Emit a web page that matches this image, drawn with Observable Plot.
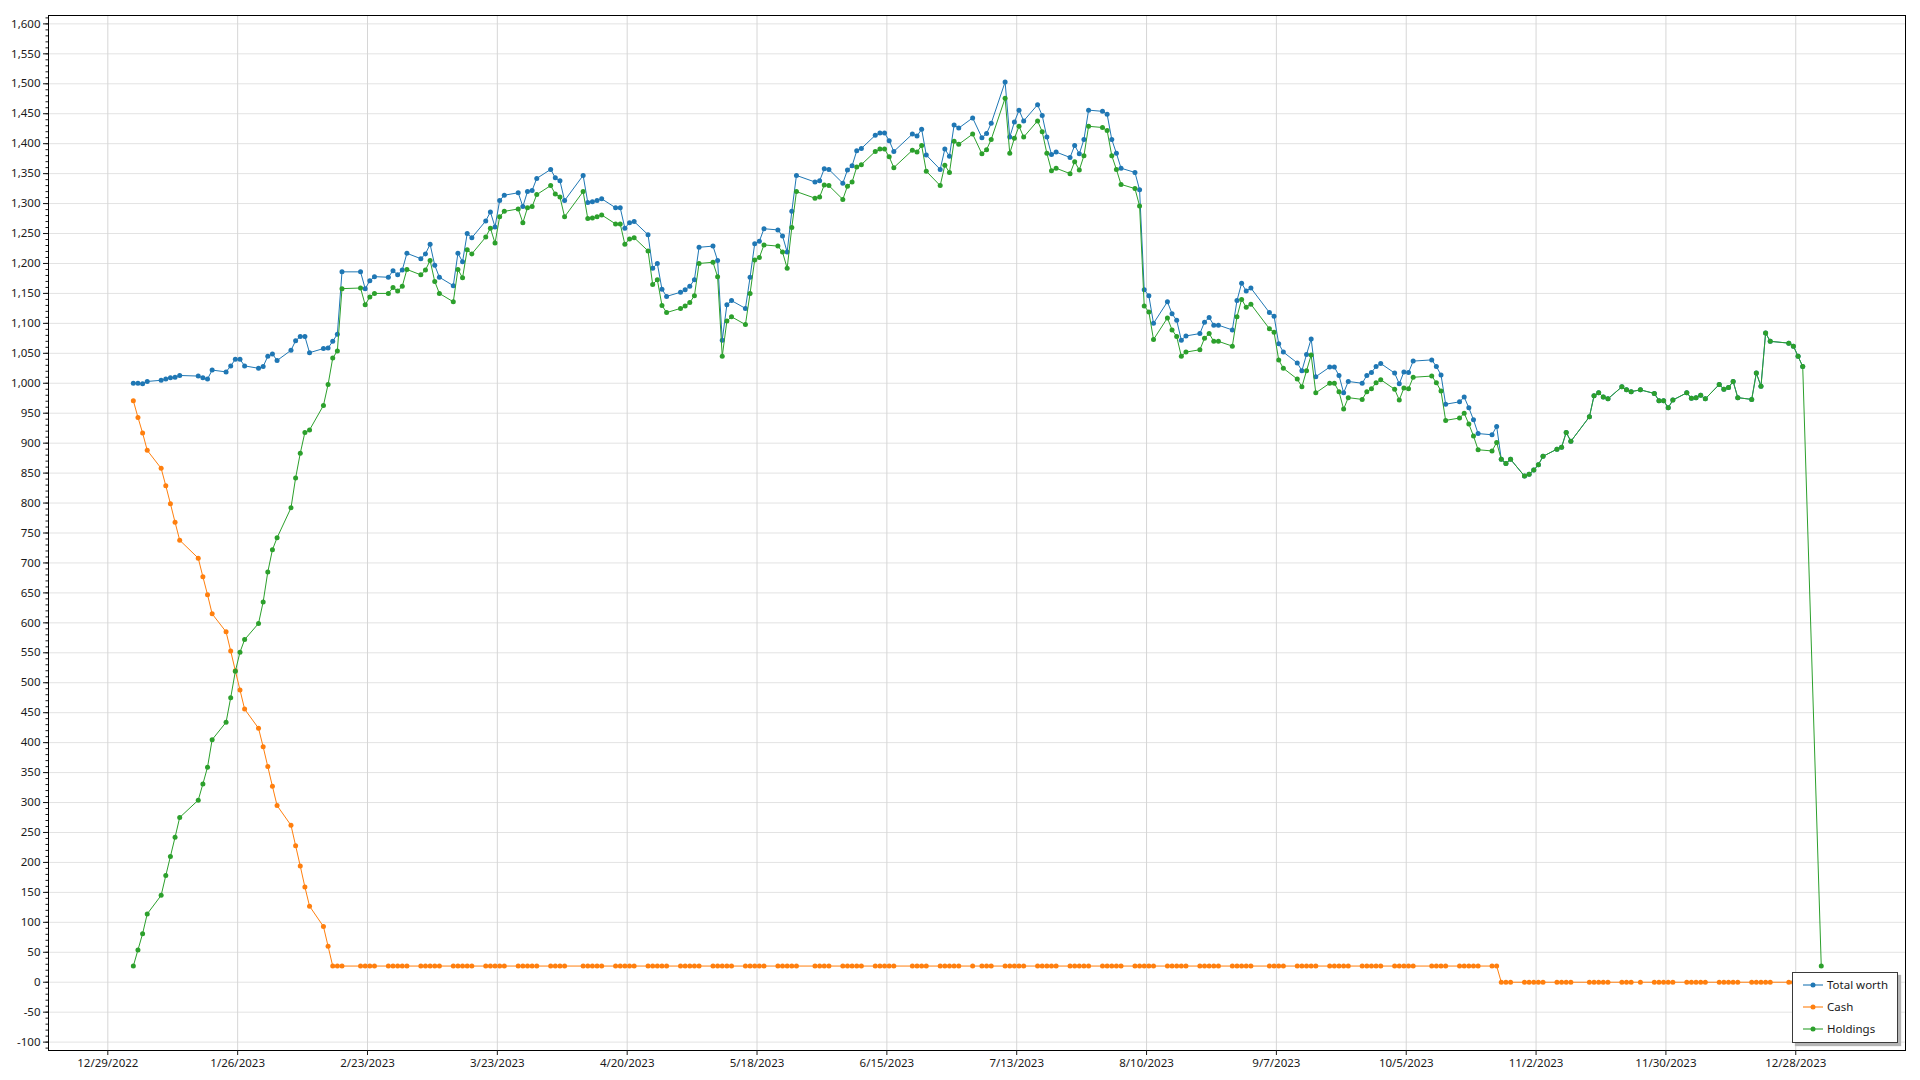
<!DOCTYPE html>
<html>
<head>
<meta charset="utf-8">
<script src="https://cdn.jsdelivr.net/npm/d3@7"></script>
<script src="https://cdn.jsdelivr.net/npm/@observablehq/plot@0.6"></script>
<style>
  body { margin: 0; background: #fff; }
  #wrap { position: relative; width: 1920px; height: 1080px; }
  #wrap svg { display: block; }
  .legend { position: absolute; left: 1792px; top: 972px; width: 106px; height: 71px; box-sizing: border-box;
            border: 1px solid #3a3a3a; background: #fff; box-shadow: 3px 3px 1px #b5b5b5;
            font-family: "Noto Sans", sans-serif; font-size: 11.5px; color: #1a1a1a; }
  .legend .item { position: absolute; left: 0; height: 22px; width: 100%; }
  .legend .item svg { position: absolute; left: 9px; top: 6px; }
  .legend .item span { position: absolute; left: 34px; top: 3px; line-height: 16px; white-space: nowrap; }
</style>
</head>
<body>
<div id="wrap"></div>
<script>
// ---- Data ----
const seriesNames = ["Total worth", "Cash", "Holdings"];
const seriesColors = ["#1f77b4", "#ff7f0e", "#2ca02c"];

const xTickLabels = ["2022-12-29","2023-01-26","2023-02-23","2023-03-23","2023-04-20","2023-05-18","2023-06-15",
                     "2023-07-13","2023-08-10","2023-09-07","2023-10-05","2023-11-02","2023-11-30","2023-12-28"];

const dates = [
  // Jan
  "2023-01-03","2023-01-04","2023-01-05","2023-01-06","2023-01-09","2023-01-10","2023-01-11","2023-01-12","2023-01-13","2023-01-17",
  "2023-01-18","2023-01-19","2023-01-20","2023-01-23","2023-01-24","2023-01-25","2023-01-26","2023-01-27","2023-01-30","2023-01-31",
  // Feb
  "2023-02-01","2023-02-02","2023-02-03","2023-02-06","2023-02-07","2023-02-08","2023-02-09","2023-02-10","2023-02-13","2023-02-14",
  "2023-02-15","2023-02-16","2023-02-17","2023-02-21","2023-02-22","2023-02-23","2023-02-24","2023-02-27","2023-02-28",
  // Mar
  "2023-03-01","2023-03-02","2023-03-03","2023-03-06","2023-03-07","2023-03-08","2023-03-09","2023-03-10","2023-03-13","2023-03-14",
  "2023-03-15","2023-03-16","2023-03-17","2023-03-20","2023-03-21","2023-03-22","2023-03-23","2023-03-24","2023-03-27","2023-03-28",
  "2023-03-29","2023-03-30","2023-03-31",
  // Apr
  "2023-04-03","2023-04-04","2023-04-05","2023-04-06","2023-04-10","2023-04-11","2023-04-12","2023-04-13","2023-04-14","2023-04-17",
  "2023-04-18","2023-04-19","2023-04-20","2023-04-21","2023-04-24","2023-04-25","2023-04-26","2023-04-27","2023-04-28",
  // May
  "2023-05-01","2023-05-02","2023-05-03","2023-05-04","2023-05-05","2023-05-08","2023-05-09","2023-05-10","2023-05-11","2023-05-12",
  "2023-05-15","2023-05-16","2023-05-17","2023-05-18","2023-05-19","2023-05-22","2023-05-23","2023-05-24","2023-05-25","2023-05-26",
  "2023-05-30","2023-05-31",
  // Jun
  "2023-06-01","2023-06-02","2023-06-05","2023-06-06","2023-06-07","2023-06-08","2023-06-09","2023-06-12","2023-06-13","2023-06-14",
  "2023-06-15","2023-06-16","2023-06-20","2023-06-21","2023-06-22","2023-06-23","2023-06-26","2023-06-27","2023-06-28","2023-06-29",
  "2023-06-30",
  // Jul
  "2023-07-03","2023-07-05","2023-07-06","2023-07-07","2023-07-10","2023-07-11","2023-07-12","2023-07-13","2023-07-14","2023-07-17",
  "2023-07-18","2023-07-19","2023-07-20","2023-07-21","2023-07-24","2023-07-25","2023-07-26","2023-07-27","2023-07-28","2023-07-31",
  // Aug
  "2023-08-01","2023-08-02","2023-08-03","2023-08-04","2023-08-07","2023-08-08","2023-08-09","2023-08-10","2023-08-11","2023-08-14",
  "2023-08-15","2023-08-16","2023-08-17","2023-08-18","2023-08-21","2023-08-22","2023-08-23","2023-08-24","2023-08-25","2023-08-28",
  "2023-08-29","2023-08-30","2023-08-31",
  // Sep
  "2023-09-01","2023-09-05","2023-09-06","2023-09-07","2023-09-08","2023-09-11","2023-09-12","2023-09-13","2023-09-14","2023-09-15",
  "2023-09-18","2023-09-19","2023-09-20","2023-09-21","2023-09-22","2023-09-25","2023-09-26","2023-09-27","2023-09-28","2023-09-29",
  // Oct
  "2023-10-02","2023-10-03","2023-10-04","2023-10-05","2023-10-06","2023-10-10","2023-10-11","2023-10-12","2023-10-13","2023-10-16",
  "2023-10-17","2023-10-18","2023-10-19","2023-10-20","2023-10-23","2023-10-24","2023-10-25","2023-10-26","2023-10-27","2023-10-30",
  "2023-10-31",
  // Nov
  "2023-11-01","2023-11-02","2023-11-03","2023-11-06","2023-11-07","2023-11-08","2023-11-09","2023-11-13","2023-11-14","2023-11-15",
  "2023-11-16","2023-11-17","2023-11-20","2023-11-21","2023-11-22","2023-11-24","2023-11-27","2023-11-28","2023-11-29","2023-11-30",
  // Dec
  "2023-12-01","2023-12-04","2023-12-05","2023-12-06","2023-12-07","2023-12-08","2023-12-11","2023-12-12","2023-12-13","2023-12-14",
  "2023-12-15","2023-12-18","2023-12-19","2023-12-20","2023-12-21","2023-12-22","2023-12-26","2023-12-27","2023-12-28","2023-12-29",
  // 2024
  "2024-01-02"
];

const totalWorth = [
  1000,1000,999,1003,1005,1007,1009,1010,1013,1012,1009,1007,1022,1019,1029,1040,1040,1029,1025,1028,
  1045,1049,1038,1055,1071,1078,1078,1051,1058,1059,1070,1082,1186,1186,1158,1171,1178,1177,1188,
  1181,1189,1217,1208,1216,1232,1197,1177,1163,1217,1203,1250,1243,1271,1286,1261,1305,1314,1318,1295,1320,1322,1342,
  1357,1343,1338,1305,1347,1302,1303,1305,1308,1293,1293,1259,1268,1270,1248,1192,1200,1157,1145,
  1152,1156,1162,1173,1227,1229,1205,1072,1131,1138,1125,1177,1233,1237,1258,1256,1246,1219,1287,1347,1336,1338,
  1358,1357,1334,1356,1363,1388,1392,1414,1418,1418,1405,1387,1416,1413,1424,1381,1357,1391,1379,1431,1426,
  1443,1410,1417,1434,1503,1411,1436,1456,1438,1465,1447,1411,1382,1386,1377,1397,1383,1407,1456,1454,
  1449,1407,1384,1359,1352,1323,1156,1146,1100,1136,1116,1105,1072,1079,1083,1102,1110,1097,1097,1089,1138,1167,1154,
  1159,1118,1112,1066,1052,1034,1021,1048,1074,1011,1027,1027,1013,984,1003,1000,1013,1018,1028,1033,
  1017,999,1019,1018,1037,1039,1028,1014,965,969,977,959,939,916,914,928,873,866,873,845,848,
  855,864,878,890,893,918,903,944,979,984,977,974,994,989,986,989,983,971,971,959,
  972,984,975,976,980,974,998,990,993,1003,976,973,1017,995,1084,1070,1067,1062,1045,1028,
  null
];

const cash = [
  971,943,917,888,858,829,799,768,738,708,677,647,615,585,553,520,488,456,424,393,
  360,327,295,262,228,194,159,127,93,60,27,27,27,27,27,27,27,27,27,
  27,27,27,27,27,27,27,27,27,27,27,27,27,27,27,27,27,27,27,27,27,27,27,
  27,27,27,27,27,27,27,27,27,27,27,27,27,27,27,27,27,27,27,
  27,27,27,27,27,27,27,27,27,27,27,27,27,27,27,27,27,27,27,27,27,27,
  27,27,27,27,27,27,27,27,27,27,27,27,27,27,27,27,27,27,27,27,27,
  27,27,27,27,27,27,27,27,27,27,27,27,27,27,27,27,27,27,27,27,
  27,27,27,27,27,27,27,27,27,27,27,27,27,27,27,27,27,27,27,27,27,27,27,
  27,27,27,27,27,27,27,27,27,27,27,27,27,27,27,27,27,27,27,27,
  27,27,27,27,27,27,27,27,27,27,27,27,27,27,27,27,0,0,0,0,0,
  0,0,0,0,0,0,0,0,0,0,0,0,0,0,0,0,0,0,0,0,
  0,0,0,0,0,0,0,0,0,0,0,0,0,0,0,0,0,0,0,0,
  null
];

const holdings = [
  27,54,81,114,145,178,210,242,275,304,331,359,405,434,475,519,551,572,599,635,
  685,722,742,792,842,883,918,922,963,998,1042,1054,1158,1159,1131,1144,1150,1150,1160,
  1154,1162,1190,1181,1189,1205,1170,1150,1136,1190,1176,1223,1216,1244,1259,1234,1278,1287,1291,1268,1293,1295,1315,
  1330,1316,1311,1278,1320,1275,1276,1278,1281,1266,1266,1232,1241,1243,1221,1165,1173,1130,1118,
  1125,1129,1135,1146,1200,1202,1178,1045,1104,1111,1098,1150,1206,1210,1231,1229,1219,1192,1260,1320,1309,1311,
  1331,1330,1307,1329,1336,1361,1365,1387,1391,1391,1378,1360,1389,1386,1397,1354,1330,1364,1352,1404,1399,
  1416,1383,1390,1407,1476,1384,1409,1429,1411,1438,1420,1384,1355,1359,1350,1370,1356,1380,1429,1427,
  1422,1380,1357,1332,1325,1296,1129,1119,1073,1109,1089,1078,1045,1052,1056,1075,1083,1070,1070,1062,1111,1140,1127,
  1132,1091,1085,1039,1025,1007,994,1021,1047,984,1000,1000,986,957,976,973,986,991,1001,1006,
  990,972,992,991,1010,1012,1001,987,938,942,950,932,912,889,887,901,873,866,873,845,848,
  855,864,878,890,893,918,903,944,979,984,977,974,994,989,986,989,983,971,971,959,
  972,984,975,976,980,974,998,990,993,1003,976,973,1017,995,1084,1070,1067,1062,1045,1028,
  27
];

// ---- Build ----
const seriesKeys = ["total", "cash", "holdings"];
const rows = dates.map((d, i) => ({
  date: new Date(d + "T12:00:00Z"),
  total: totalWorth[i], cash: cash[i], holdings: holdings[i]
}));

const xTicks = xTickLabels.map(s => new Date(s + "T00:00:00Z"));
const yTicks = d3.range(-100, 1601, 50);
const yMinor = d3.range(-110, 1611, 10);
const fmtDate = d => `${d.getUTCMonth() + 1}/${d.getUTCDate()}/${d.getUTCFullYear()}`;
const fmtNum = d => d.toLocaleString("en-US");

const seriesMarks = seriesKeys.flatMap((k, i) => {
  const data = rows.filter(r => r[k] != null);
  return [
    Plot.line(data, {x: "date", y: k, stroke: seriesColors[i], strokeWidth: 1}),
    Plot.dot(data, {x: "date", y: k, fill: seriesColors[i], r: 2.5})
  ];
});

const chart = Plot.plot({
  width: 1920,
  height: 1080,
  marginLeft: 48,
  marginRight: 15,
  marginTop: 15,
  marginBottom: 30,
  style: {fontFamily: '"Noto Sans", sans-serif', fontSize: "11.5px", color: "#1a1a1a", background: "#fff"},
  x: {type: "utc", domain: [new Date("2022-12-16T05:00:00Z"), new Date("2024-01-20T16:00:00Z")], label: null},
  y: {domain: [-114, 1614], label: null},
  marks: [
    Plot.gridY(yTicks, {stroke: "#e3e3e3", strokeOpacity: 1}),
    Plot.gridX(xTicks, {stroke: "#d6d6d6", strokeOpacity: 1}),
    ...seriesMarks,
    Plot.frame({stroke: "#000"}),
    Plot.axisY(yMinor, {tickSize: 2.5, tickFormat: () => "", label: null}),
    Plot.axisY(yTicks, {tickSize: 5, tickPadding: 3, tickFormat: fmtNum, label: null}),
    Plot.axisX(xTicks, {tickSize: 5, tickPadding: 3, tickFormat: fmtDate, label: null})
  ]
});

const wrap = document.getElementById("wrap");
wrap.appendChild(chart);

// Legend (inside plot, bottom-right)
const legend = document.createElement("div");
legend.className = "legend";
seriesNames.forEach((name, i) => {
  const item = document.createElement("div");
  item.className = "item";
  item.style.top = (1 + 22 * i) + "px";
  const c = seriesColors[i];
  item.innerHTML = `<svg width="22" height="10"><line x1="1" y1="5" x2="21" y2="5" stroke="${c}" stroke-opacity="0.55" stroke-width="2"/><circle cx="11" cy="5" r="2.5" fill="${c}"/></svg><span>${name}</span>`;
  legend.appendChild(item);
});
wrap.appendChild(legend);
</script>
</body>
</html>
